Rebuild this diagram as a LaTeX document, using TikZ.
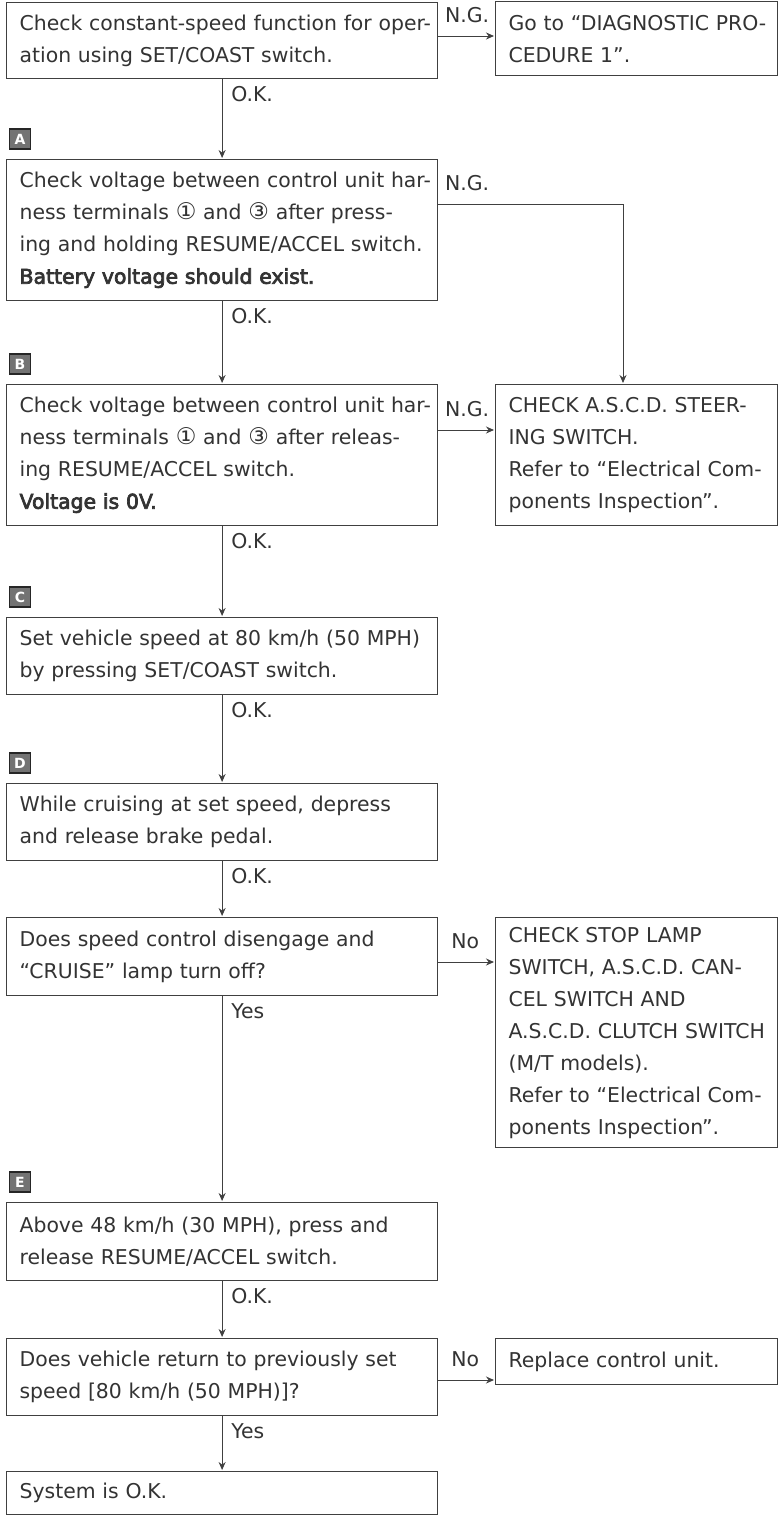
\documentclass[tikz,border=0pt]{standalone}
\usepackage{fontspec}
\setmainfont{DejaVu Sans}
\newfontfamily\fbold{DejaVu Sans}[FakeBold=3.5]
\usetikzlibrary{arrows.meta}
\newcommand{\rowtxt}[1]{\mbox{#1}}
\newcommand{\boldrow}[1]{\mbox{\fbold #1}}
\newcommand{\cnum}[1]{{\fontsize{23}{32}\selectfont #1}}
\definecolor{ink}{gray}{0.2}
\definecolor{lineink}{gray}{0.25}
\begin{document}
\begin{tikzpicture}[x=1pt,y=-1pt,
  box/.style={draw=lineink, line width=1.2pt, anchor=north west, align=left,
    inner xsep=11pt, inner ysep=2pt, text=ink,
    font=\fontsize{20.4}{32}\selectfont},
  lbox/.style={box, minimum width=431pt, text width=405pt},
  rbox/.style={box, minimum width=282pt, text width=256pt},
  lbl/.style={text=ink, font=\fontsize{20.4}{22}\selectfont, inner sep=1pt},
  badge/.style={draw=black!85, line width=1.2pt, fill=black!55, text=white,
    font=\bfseries\fontsize{14}{14}\selectfont, minimum width=21pt,
    minimum height=20pt, inner sep=0pt},
  vconn/.style={draw=lineink, line width=1pt, shorten >=1pt,
    -{Stealth[length=8pt,width=7pt]}},
  hconn/.style={draw=lineink, line width=1pt, shorten >=1pt,
    -{Stealth[length=8pt,width=7pt]}}
]
\fill[white] (0,0) rectangle (778,1516);
\useasboundingbox (0,0) rectangle (778,1516);

% left column
\node[lbox, minimum height=76pt] (b1) at (6,2)
  {\rowtxt{Check constant-speed function for oper-}\\\rowtxt{ation using SET/COAST switch.}};
\node[lbox, minimum height=141pt] (bA) at (6,159)
  {\rowtxt{Check voltage between control unit har-}\\
   \rowtxt{ness terminals \cnum{①} and \cnum{③} after press-}\\
   \rowtxt{ing and holding RESUME/ACCEL switch.}\\
   \boldrow{Battery voltage should exist.}};
\node[lbox, minimum height=141pt] (bB) at (6,384)
  {\rowtxt{Check voltage between control unit har-}\\
   \rowtxt{ness terminals \cnum{①} and \cnum{③} after releas-}\\
   \rowtxt{ing RESUME/ACCEL switch.}\\
   \boldrow{Voltage is 0V.}};
\node[lbox, minimum height=77pt] (bC) at (6,617)
  {\rowtxt{Set vehicle speed at 80 km/h (50 MPH)}\\\rowtxt{by pressing SET/COAST switch.}};
\node[lbox, minimum height=77pt] (bD) at (6,783)
  {\rowtxt{While cruising at set speed, depress}\\\rowtxt{and release brake pedal.}};
\node[lbox, minimum height=78pt] (bQ1) at (6,917)
  {\rowtxt{Does speed control disengage and}\\\rowtxt{``CRUISE'' lamp turn off?}};
\node[lbox, minimum height=78pt] (bE) at (6,1202)
  {\rowtxt{Above 48 km/h (30 MPH), press and}\\\rowtxt{release RESUME/ACCEL switch.}};
\node[lbox, minimum height=77pt] (bQ2) at (6,1338)
  {\rowtxt{Does vehicle return to previously set}\\\rowtxt{speed [80 km/h (50 MPH)]?}};
\node[lbox, minimum height=43pt] (bF) at (6,1471)
  {\rowtxt{System is O.K.}};

% right column
\node[rbox, minimum height=74pt] (r1) at (495,1)
  {\rowtxt{Go to ``DIAGNOSTIC PRO-}\\\rowtxt{CEDURE 1''.}};
\node[rbox, minimum height=141pt] (rB) at (495,384)
  {\rowtxt{CHECK A.S.C.D. STEER-}\\\rowtxt{ING SWITCH.}\\
   \rowtxt{Refer to ``Electrical Com-}\\\rowtxt{ponents Inspection''.}};
\node[rbox, minimum height=230pt] (rQ1) at (495,917)
  {\rowtxt{CHECK STOP LAMP}\\\rowtxt{SWITCH, A.S.C.D. CAN-}\\
   \rowtxt{CEL SWITCH AND}\\\rowtxt{A.S.C.D. CLUTCH SWITCH}\\
   \rowtxt{(M/T models).}\\\rowtxt{Refer to ``Electrical Com-}\\
   \rowtxt{ponents Inspection''.}};
\node[rbox, minimum height=46pt] (rQ2) at (495,1338)
  {\rowtxt{Replace control unit.}};

% badges
\node[badge] (bdgA) at (20,139) {A};
\node[badge] (bdgB) at (20,364) {B};
\node[badge] (bdgC) at (20,597) {C};
\node[badge] (bdgD) at (20,763) {D};
\node[badge] (bdgE) at (20,1182) {E};

% vertical flow
\draw[vconn] (b1.south) -- (bA.north);
\draw[vconn] (bA.south) -- (bB.north);
\draw[vconn] (bB.south) -- (bC.north);
\draw[vconn] (bC.south) -- (bD.north);
\draw[vconn] (bD.south) -- (bQ1.north);
\draw[vconn] (bQ1.south) -- (bE.north);
\draw[vconn] (bE.south) -- (bQ2.north);
\draw[vconn] (bQ2.south) -- (bF.north);

\node[lbl, anchor=west] (ok1) at ([xshift=8pt,yshift=-15pt]b1.south) {O.K.};
\node[lbl, anchor=west] (ok2) at ([xshift=8pt,yshift=-15pt]bA.south) {O.K.};
\node[lbl, anchor=west] (ok3) at ([xshift=8pt,yshift=-15pt]bB.south) {O.K.};
\node[lbl, anchor=west] (ok4) at ([xshift=8pt,yshift=-15pt]bC.south) {O.K.};
\node[lbl, anchor=west] (ok5) at ([xshift=8pt,yshift=-15pt]bD.south) {O.K.};
\node[lbl, anchor=west] (yes1) at ([xshift=8pt,yshift=-15pt]bQ1.south) {Yes};
\node[lbl, anchor=west] (ok6) at ([xshift=8pt,yshift=-15pt]bE.south) {O.K.};
\node[lbl, anchor=west] (yes2) at ([xshift=8pt,yshift=-15pt]bQ2.south) {Yes};

% side branches
\draw[hconn] ([yshift=-34pt]b1.north east) coordinate (p1) -- (p1 -| r1.west);
\node[lbl] (ng1) at ([xshift=29pt,yshift=21pt]p1) {N.G.};

\draw[hconn] ([yshift=-45pt]bA.north east) coordinate (p2) -| ([xshift=128pt]rB.north west);
\node[lbl] (ng2) at ([xshift=29pt,yshift=21pt]p2) {N.G.};

\draw[hconn] ([yshift=-46pt]bB.north east) coordinate (p3) -- (p3 -| rB.west);
\node[lbl] (ng3) at ([xshift=29pt,yshift=21pt]p3) {N.G.};

\draw[hconn] ([yshift=-45pt]bQ1.north east) coordinate (p4) -- (p4 -| rQ1.west);
\node[lbl] (no1) at ([xshift=27pt,yshift=21pt]p4) {No};

\draw[hconn] ([yshift=-42pt]bQ2.north east) coordinate (p5) -- (p5 -| rQ2.west);
\node[lbl] (no2) at ([xshift=27pt,yshift=21pt]p5) {No};
\end{tikzpicture}
\end{document}
